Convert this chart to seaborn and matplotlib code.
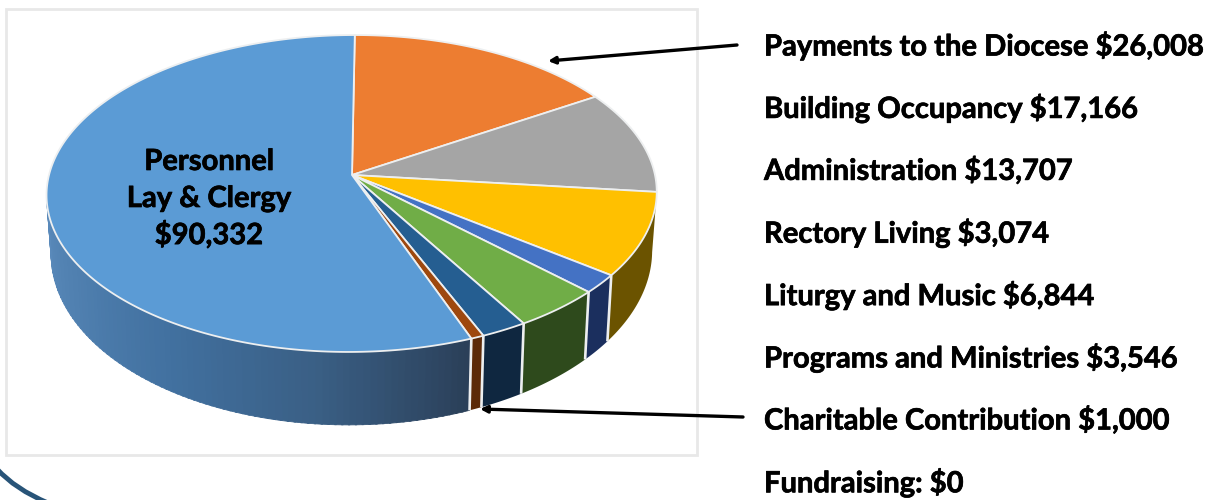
#!/usr/bin/env python3

import numpy as np
import seaborn as sns
import matplotlib.pyplot as plt
import matplotlib.patheffects as pe
from matplotlib.patches import Rectangle, PathPatch
from matplotlib.path import Path

# clockwise from the top of the pie
slices = ["Payments to the Diocese", "Building Occupancy", "Administration", "Rectory Living",
          "Liturgy and Music", "Programs and Ministries", "Charitable Contribution", "Personnel"]
amounts = [26008, 17166, 13707, 3074, 6844, 3546, 1000, 90332]
top_colors = ["#ED7D31", "#A5A5A5", "#FFC000", "#4472C4", "#70AD47", "#255E91", "#9E480E", "#5B9BD5"]
wall_colors = ["#8a4a1c", "#606060", "#6B5300", "#1B2F5E", "#2E4A1C", "#0F2740", "#5C2A08", None]
personnel_wall = ["#2B4059", "#3A5F85", "#41709F", "#4F7FAF", "#5A8ABB"]

side_labels = ["Payments to the Diocese $26,008", "Building Occupancy $17,166", "Administration $13,707",
               "Rectory Living $3,074", "Liturgy and Music $6,844", "Programs and Ministries $3,546",
               "Charitable Contribution $1,000", "Fundraising: $0"]
center_label = ["Personnel", "Lay & Clergy", "$90,332"]

# pie geometry in pixels, tilted with a small perspective
CX, CY = 352, 175
SX, SY, K, SHEAR = 303, 156.3, 0.1167, 0.02
DEPTH, WALL_X, WALL_Y = 57, 0.985, 1.09
EDGE = "#EDEFF0"


def rim(theta):
    t = np.radians(theta)
    den = 1 + K * np.cos(t)
    y = SY * np.cos(t) / den
    return SX * np.sin(t) / den + SHEAR * y, y


def top_xy(theta):
    x, y = rim(theta)
    return CX + x, CY - y


def bottom_xy(theta):
    x, y = rim(theta)
    return CX + WALL_X * x, CY - WALL_Y * y + DEPTH


def wall_poly(t0, t1):
    th = np.linspace(t0, t1, 40)
    xt, yt = top_xy(th)
    xb, yb = bottom_xy(th[::-1])
    return np.r_[xt, xb], np.r_[yt, yb]


sns.set_theme(style="white")
plt.rcParams["font.family"] = ["Lato", "DejaVu Sans"]

fig = plt.figure(figsize=(12.1, 5), dpi=100)
ax = fig.add_axes([0, 0, 1, 1])
ax.set_xlim(0, 1210)
ax.set_ylim(500, 0)
ax.axis("off")

ax.add_patch(Rectangle((6, 9), 691, 446, facecolor="white", edgecolor="#E8E8E8", lw=2))

# corner of the slide decoration
ax.add_patch(PathPatch(Path([(-3, 469), (15, 489), (48, 503)], [Path.MOVETO, Path.CURVE3, Path.CURVE3]),
                       facecolor="none", edgecolor="#285478", lw=3.5))

edges = np.r_[0, np.cumsum(amounts) / np.sum(amounts) * 360]
left_limit, right_limit = 263.3, 96.7

# side wall, only the part facing the viewer
for i in range(len(amounts)):
    t0, t1 = max(edges[i], right_limit), min(edges[i + 1], left_limit)
    if t1 <= t0:
        continue
    if wall_colors[i] is None:
        steps = np.linspace(t0, t1, 91)
        shades = sns.blend_palette(personnel_wall, len(steps) - 1)
        for a, b, c in zip(steps[:-1], steps[1:], shades):
            xs, ys = wall_poly(a, b + 0.3)
            ax.fill(xs, ys, facecolor=c, edgecolor=c, lw=0.6)
    else:
        xs, ys = wall_poly(t0, t1)
        ax.fill(xs, ys, color=wall_colors[i], lw=0)

# separators between the wall segments
for t in edges[1:-1]:
    if right_limit < t < left_limit:
        xt, yt = top_xy(t)
        xb, yb = bottom_xy(t)
        ax.plot([xt, xb], [yt, yb], color=EDGE, lw=1.9, solid_capstyle="butt")

# top face
for i in range(len(amounts)):
    th = np.linspace(edges[i], edges[i + 1], max(int(edges[i + 1] - edges[i]) * 2, 6))
    xt, yt = top_xy(th)
    ax.fill(np.r_[CX, xt], np.r_[CY, yt], facecolor=top_colors[i], edgecolor=EDGE, lw=1.3, joinstyle="round")

heavy = [pe.withStroke(linewidth=0.5, foreground="black")]
for text, y in zip(center_label, [162, 199, 235]):
    ax.text(209, y, text, ha="center", va="center", fontsize=21, fontweight="bold", color="black", path_effects=heavy)

for i, text in enumerate(side_labels):
    ax.text(764, 46 + i * 62.4, text, ha="left", va="center", fontsize=21, fontweight="bold", color="black",
            path_effects=heavy)

arrow = dict(arrowstyle="-|>", color="black", lw=2.4, mutation_scale=10, shrinkA=0, shrinkB=0)
ax.annotate("", xy=(548, 61), xytext=(737, 45), arrowprops=arrow)
ax.annotate("", xy=(480, 409), xytext=(743, 417), arrowprops=arrow)

plt.savefig("out.png", dpi=100)
plt.close()
